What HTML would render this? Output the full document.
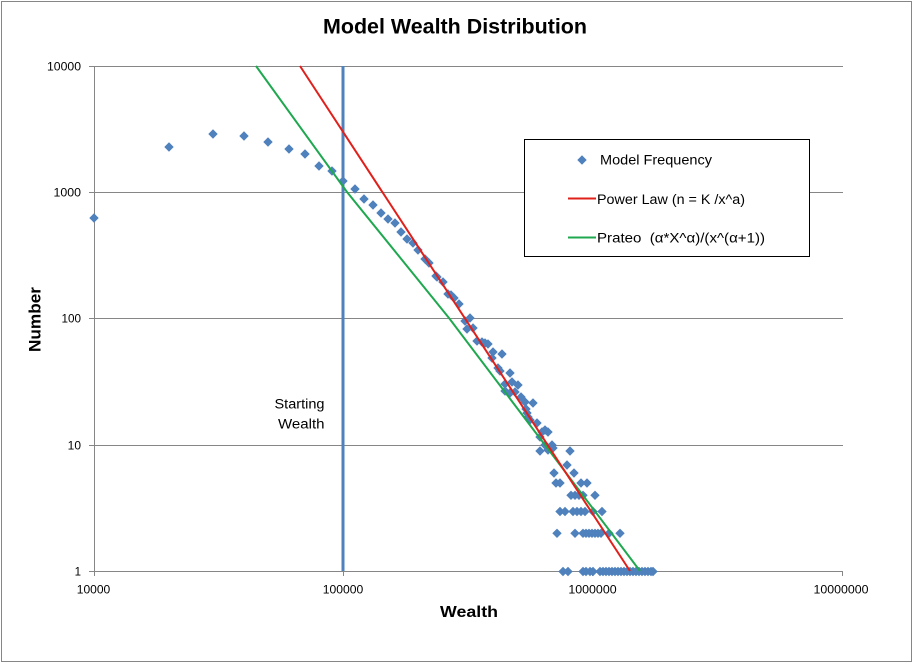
<!DOCTYPE html>
<html>
<head>
<meta charset="utf-8">
<style>
html,body{margin:0;padding:0;background:#fff;}
svg{display:block;}
text{font-family:"Liberation Sans",Arial,sans-serif;fill:#000;}
</style>
</head>
<body>
<svg width="914" height="664" viewBox="0 0 914 664" xmlns="http://www.w3.org/2000/svg">
<defs>
<path id="d" d="M0,-4.7 L4.7,0 L0,4.7 L-4.7,0Z" fill="#4F81BD"/>
</defs>
<rect x="0" y="0" width="914" height="664" fill="#fff"/>
<rect x="1.5" y="1.5" width="910" height="660" fill="none" stroke="#868686" stroke-width="1"/>
<text x="323" y="33.5" font-size="21" font-weight="bold" textLength="264" lengthAdjust="spacingAndGlyphs">Model Wealth Distribution</text>
<g stroke="#868686" stroke-width="1" fill="none">
<line x1="89" y1="66.5" x2="843" y2="66.5"/>
<line x1="89" y1="192.5" x2="843" y2="192.5"/>
<line x1="89" y1="318.5" x2="843" y2="318.5"/>
<line x1="89" y1="445.5" x2="843" y2="445.5"/>
<line x1="89" y1="571.5" x2="843" y2="571.5"/>
<line x1="94.5" y1="66" x2="94.5" y2="576"/>
<line x1="343.5" y1="571" x2="343.5" y2="576"/>
<line x1="592.5" y1="571" x2="592.5" y2="576"/>
<line x1="842.5" y1="571" x2="842.5" y2="576"/>
</g>
<g font-size="11.5" text-anchor="end">
<text x="81" y="70.5" textLength="34" lengthAdjust="spacingAndGlyphs">10000</text>
<text x="81" y="196.5" textLength="27.5" lengthAdjust="spacingAndGlyphs">1000</text>
<text x="81" y="322.5" textLength="19.5" lengthAdjust="spacingAndGlyphs">100</text>
<text x="81" y="449.5" textLength="13.3" lengthAdjust="spacingAndGlyphs">10</text>
<text x="81" y="575.5">1</text>
</g>
<g font-size="11.5" text-anchor="middle">
<text x="93.5" y="593.5" textLength="33.5" lengthAdjust="spacingAndGlyphs">10000</text>
<text x="343" y="593.5" textLength="40.5" lengthAdjust="spacingAndGlyphs">100000</text>
<text x="592.5" y="593.5" textLength="48.3" lengthAdjust="spacingAndGlyphs">1000000</text>
<text x="841" y="593.5" textLength="55" lengthAdjust="spacingAndGlyphs">10000000</text>
</g>
<text x="469" y="617" font-size="16" font-weight="bold" text-anchor="middle" textLength="58" lengthAdjust="spacingAndGlyphs">Wealth</text>
<text transform="translate(40.5,319.5) rotate(-90)" font-size="17" font-weight="bold" text-anchor="middle" textLength="65" lengthAdjust="spacingAndGlyphs">Number</text>
<line x1="343" y1="66" x2="343" y2="571" stroke="#4F81BD" stroke-width="3"/>
<g font-size="13.5" text-anchor="end">
<text x="324.5" y="408.5" textLength="50" lengthAdjust="spacingAndGlyphs">Starting</text>
<text x="324.5" y="428.5" textLength="46.5" lengthAdjust="spacingAndGlyphs">Wealth</text>
</g>
<g>
<use href="#d" x="94" y="218"/>
<use href="#d" x="169" y="147"/>
<use href="#d" x="213" y="134"/>
<use href="#d" x="244" y="136"/>
<use href="#d" x="268" y="142"/>
<use href="#d" x="289" y="149"/>
<use href="#d" x="305" y="154"/>
<use href="#d" x="319" y="166"/>
<use href="#d" x="332" y="171"/>
<use href="#d" x="343" y="181"/>
<use href="#d" x="355" y="189"/>
<use href="#d" x="364" y="199"/>
<use href="#d" x="373" y="205"/>
<use href="#d" x="381" y="213"/>
<use href="#d" x="388" y="219"/>
<use href="#d" x="395" y="223"/>
<use href="#d" x="401" y="232"/>
<use href="#d" x="407" y="239"/>
<use href="#d" x="413" y="243"/>
<use href="#d" x="418" y="250"/>
<use href="#d" x="425" y="259"/>
<use href="#d" x="429" y="263"/>
<use href="#d" x="436" y="276"/>
<use href="#d" x="437" y="277"/>
<use href="#d" x="443" y="282"/>
<use href="#d" x="448" y="294"/>
<use href="#d" x="451" y="295"/>
<use href="#d" x="454" y="298"/>
<use href="#d" x="459" y="304"/>
<use href="#d" x="465" y="321"/>
<use href="#d" x="470" y="318"/>
<use href="#d" x="467" y="329"/>
<use href="#d" x="473" y="328"/>
<use href="#d" x="477" y="341"/>
<use href="#d" x="482" y="342"/>
<use href="#d" x="485" y="343"/>
<use href="#d" x="488" y="344"/>
<use href="#d" x="493" y="352"/>
<use href="#d" x="502" y="354"/>
<use href="#d" x="492" y="358"/>
<use href="#d" x="498" y="368"/>
<use href="#d" x="500" y="371"/>
<use href="#d" x="510" y="373"/>
<use href="#d" x="505" y="384"/>
<use href="#d" x="512" y="382"/>
<use href="#d" x="518" y="385"/>
<use href="#d" x="505" y="391"/>
<use href="#d" x="510" y="393"/>
<use href="#d" x="515" y="392"/>
<use href="#d" x="521" y="397"/>
<use href="#d" x="525" y="402"/>
<use href="#d" x="533" y="403"/>
<use href="#d" x="526" y="409"/>
<use href="#d" x="527" y="413"/>
<use href="#d" x="528" y="417"/>
<use href="#d" x="530" y="420"/>
<use href="#d" x="537" y="423"/>
<use href="#d" x="542" y="432"/>
<use href="#d" x="545" y="430"/>
<use href="#d" x="548" y="432"/>
<use href="#d" x="540" y="437"/>
<use href="#d" x="545" y="445"/>
<use href="#d" x="552" y="445"/>
<use href="#d" x="540" y="451"/>
<use href="#d" x="548" y="450"/>
<use href="#d" x="553" y="448"/>
<use href="#d" x="570" y="451"/>
<use href="#d" x="567" y="465"/>
<use href="#d" x="554" y="473"/>
<use href="#d" x="574" y="473"/>
<use href="#d" x="556" y="483"/>
<use href="#d" x="560" y="483"/>
<use href="#d" x="581" y="483"/>
<use href="#d" x="587" y="483"/>
<use href="#d" x="571" y="495.3"/>
<use href="#d" x="575" y="495.3"/>
<use href="#d" x="579" y="495.3"/>
<use href="#d" x="583" y="495.3"/>
<use href="#d" x="595" y="495.3"/>
<use href="#d" x="560" y="511.5"/>
<use href="#d" x="565" y="511.5"/>
<use href="#d" x="573" y="511.5"/>
<use href="#d" x="577" y="511.5"/>
<use href="#d" x="581" y="511.5"/>
<use href="#d" x="585" y="511.5"/>
<use href="#d" x="593" y="511.5"/>
<use href="#d" x="602" y="511.5"/>
<use href="#d" x="557" y="533.3"/>
<use href="#d" x="575" y="533.3"/>
<use href="#d" x="583" y="533.3"/>
<use href="#d" x="586" y="533.3"/>
<use href="#d" x="589" y="533.3"/>
<use href="#d" x="592" y="533.3"/>
<use href="#d" x="595" y="533.3"/>
<use href="#d" x="598" y="533.3"/>
<use href="#d" x="601" y="533.3"/>
<use href="#d" x="609" y="533.3"/>
<use href="#d" x="620" y="533.3"/>
<use href="#d" x="563" y="571.5"/>
<use href="#d" x="568" y="571.5"/>
<use href="#d" x="583" y="571.5"/>
<use href="#d" x="586" y="571.5"/>
<use href="#d" x="590" y="571.5"/>
<use href="#d" x="593" y="571.5"/>
<use href="#d" x="600" y="571.5"/>
<use href="#d" x="603" y="571.5"/>
<use href="#d" x="606" y="571.5"/>
<use href="#d" x="609" y="571.5"/>
<use href="#d" x="612" y="571.5"/>
<use href="#d" x="615" y="571.5"/>
<use href="#d" x="618" y="571.5"/>
<use href="#d" x="621" y="571.5"/>
<use href="#d" x="624" y="571.5"/>
<use href="#d" x="627" y="571.5"/>
<use href="#d" x="630" y="571.5"/>
<use href="#d" x="633" y="571.5"/>
<use href="#d" x="636" y="571.5"/>
<use href="#d" x="639" y="571.5"/>
<use href="#d" x="642" y="571.5"/>
<use href="#d" x="645" y="571.5"/>
<use href="#d" x="648" y="571.5"/>
<use href="#d" x="651" y="571.5"/>
<use href="#d" x="653" y="571.5"/>
</g>
<polyline points="256,66 347,192 449,318 545,445 640,571" fill="none" stroke="#1FA84F" stroke-width="2"/>
<line x1="300" y1="66" x2="630" y2="571" stroke="#E0201B" stroke-width="2"/>
<rect x="524.5" y="139.5" width="285" height="117" fill="#fff" stroke="#000" stroke-width="1"/>
<use href="#d" x="582" y="160"/>
<text x="600" y="164.5" font-size="13.5" textLength="112" lengthAdjust="spacingAndGlyphs">Model Frequency</text>
<line x1="568" y1="198.5" x2="596" y2="198.5" stroke="#E0201B" stroke-width="2"/>
<text x="597" y="204" font-size="13.5" textLength="148" lengthAdjust="spacingAndGlyphs">Power Law (n = K /x^a)</text>
<line x1="568" y1="237.5" x2="596" y2="237.5" stroke="#1FA84F" stroke-width="2"/>
<text x="597" y="242.5" font-size="13.5" textLength="168" lengthAdjust="spacingAndGlyphs">Prateo &#160;(α*X^α)/(x^(α+1))</text>
</svg>
</body>
</html>
